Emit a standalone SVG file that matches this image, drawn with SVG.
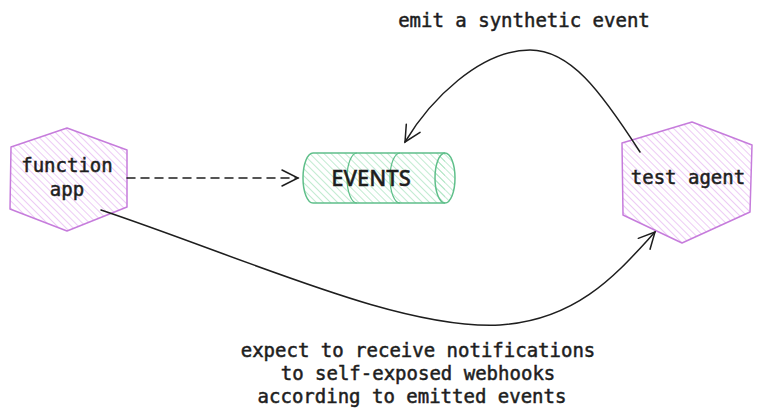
<svg xmlns="http://www.w3.org/2000/svg" width="762" height="418" viewBox="0 0 762 418">
<defs>
<pattern id="hp" patternUnits="userSpaceOnUse" width="5" height="5" patternTransform="rotate(-45)">
<line x1="0" y1="0" x2="0" y2="5" stroke="#e3aef0" stroke-width="1.3"/>
</pattern>
<pattern id="hg" patternUnits="userSpaceOnUse" width="5" height="5" patternTransform="rotate(-45)">
<line x1="0" y1="0" x2="0" y2="5" stroke="#9fe0b8" stroke-width="1.3"/>
</pattern>
<marker id="ah" viewBox="0 0 20 20" refX="18" refY="10" markerWidth="20" markerHeight="20" markerUnits="userSpaceOnUse" orient="auto">
<path d="M2,2 L18,10 L2,18" fill="none" stroke="#1e1e1e" stroke-width="1.5" stroke-linecap="round"/>
</marker>
</defs>
<style>
.hex{fill:url(#hp);stroke:#c67cdc;stroke-width:1.5;stroke-linejoin:round}
.cyl{fill:url(#hg);stroke:#5fbf8a;stroke-width:1.5}
.t{font-family:"DejaVu Sans Mono","Liberation Mono",monospace;font-size:19px;fill:#1e1e1e;stroke:#1e1e1e;stroke-width:0.5;text-anchor:middle}
.ev{font-family:"Noto Sans","DejaVu Sans",sans-serif;font-size:22px;font-weight:500;fill:#1e1e1e;stroke:#1e1e1e;stroke-width:0.4;text-anchor:middle}
.c{fill:none;stroke:#1e1e1e;stroke-width:1.5;stroke-linecap:round}
</style>
<g id="function-app">
<polygon class="hex" points="67,128 127,150 127,207 67,231 10,209 11,147"/>
<text class="t" x="67" y="172">function</text>
<text class="t" x="67" y="196">app</text>
</g>
<g id="events">
<path class="cyl" d="M313,153 L445,153 A10,25 0 0 1 445,203 L313,203 A10,25 0 0 1 313,153 Z"/>
<path class="cyl" d="M445,153 A10,25 0 0 0 445,203" fill="none"/>
<path d="M357,153 A10,25 0 0 0 357,203 M400,153 A10,25 0 0 0 400,203" fill="none" stroke="#5fbf8a" stroke-width="1.2"/>
<text class="ev" x="371" y="186">EVENTS</text>
</g>
<g id="test-agent">
<polygon class="hex" points="692,122 752,145 750,212 682,243 623,215 622,143"/>
<text class="t" x="688" y="184">test agent</text>
</g>
<g id="connectors">
<path class="c" d="M127,178 L298,178" stroke-dasharray="8,6" marker-end="url(#ah)"/>
<path class="c" d="M640,152 C600,90 570,50 530,50 C480,50 430,100 405,142" marker-end="url(#ah)"/>
<path class="c" d="M101,210 C250,260 400,330 500,325 C580,320 620,270 655,232" marker-end="url(#ah)"/>
</g>
<g id="labels">
<text class="t" x="524" y="27">emit a synthetic event</text>
<text class="t" x="418" y="357">expect to receive notifications</text>
<text class="t" x="418" y="380">to self-exposed webhooks</text>
<text class="t" x="412" y="403">according to emitted events</text>
</g>
</svg>
